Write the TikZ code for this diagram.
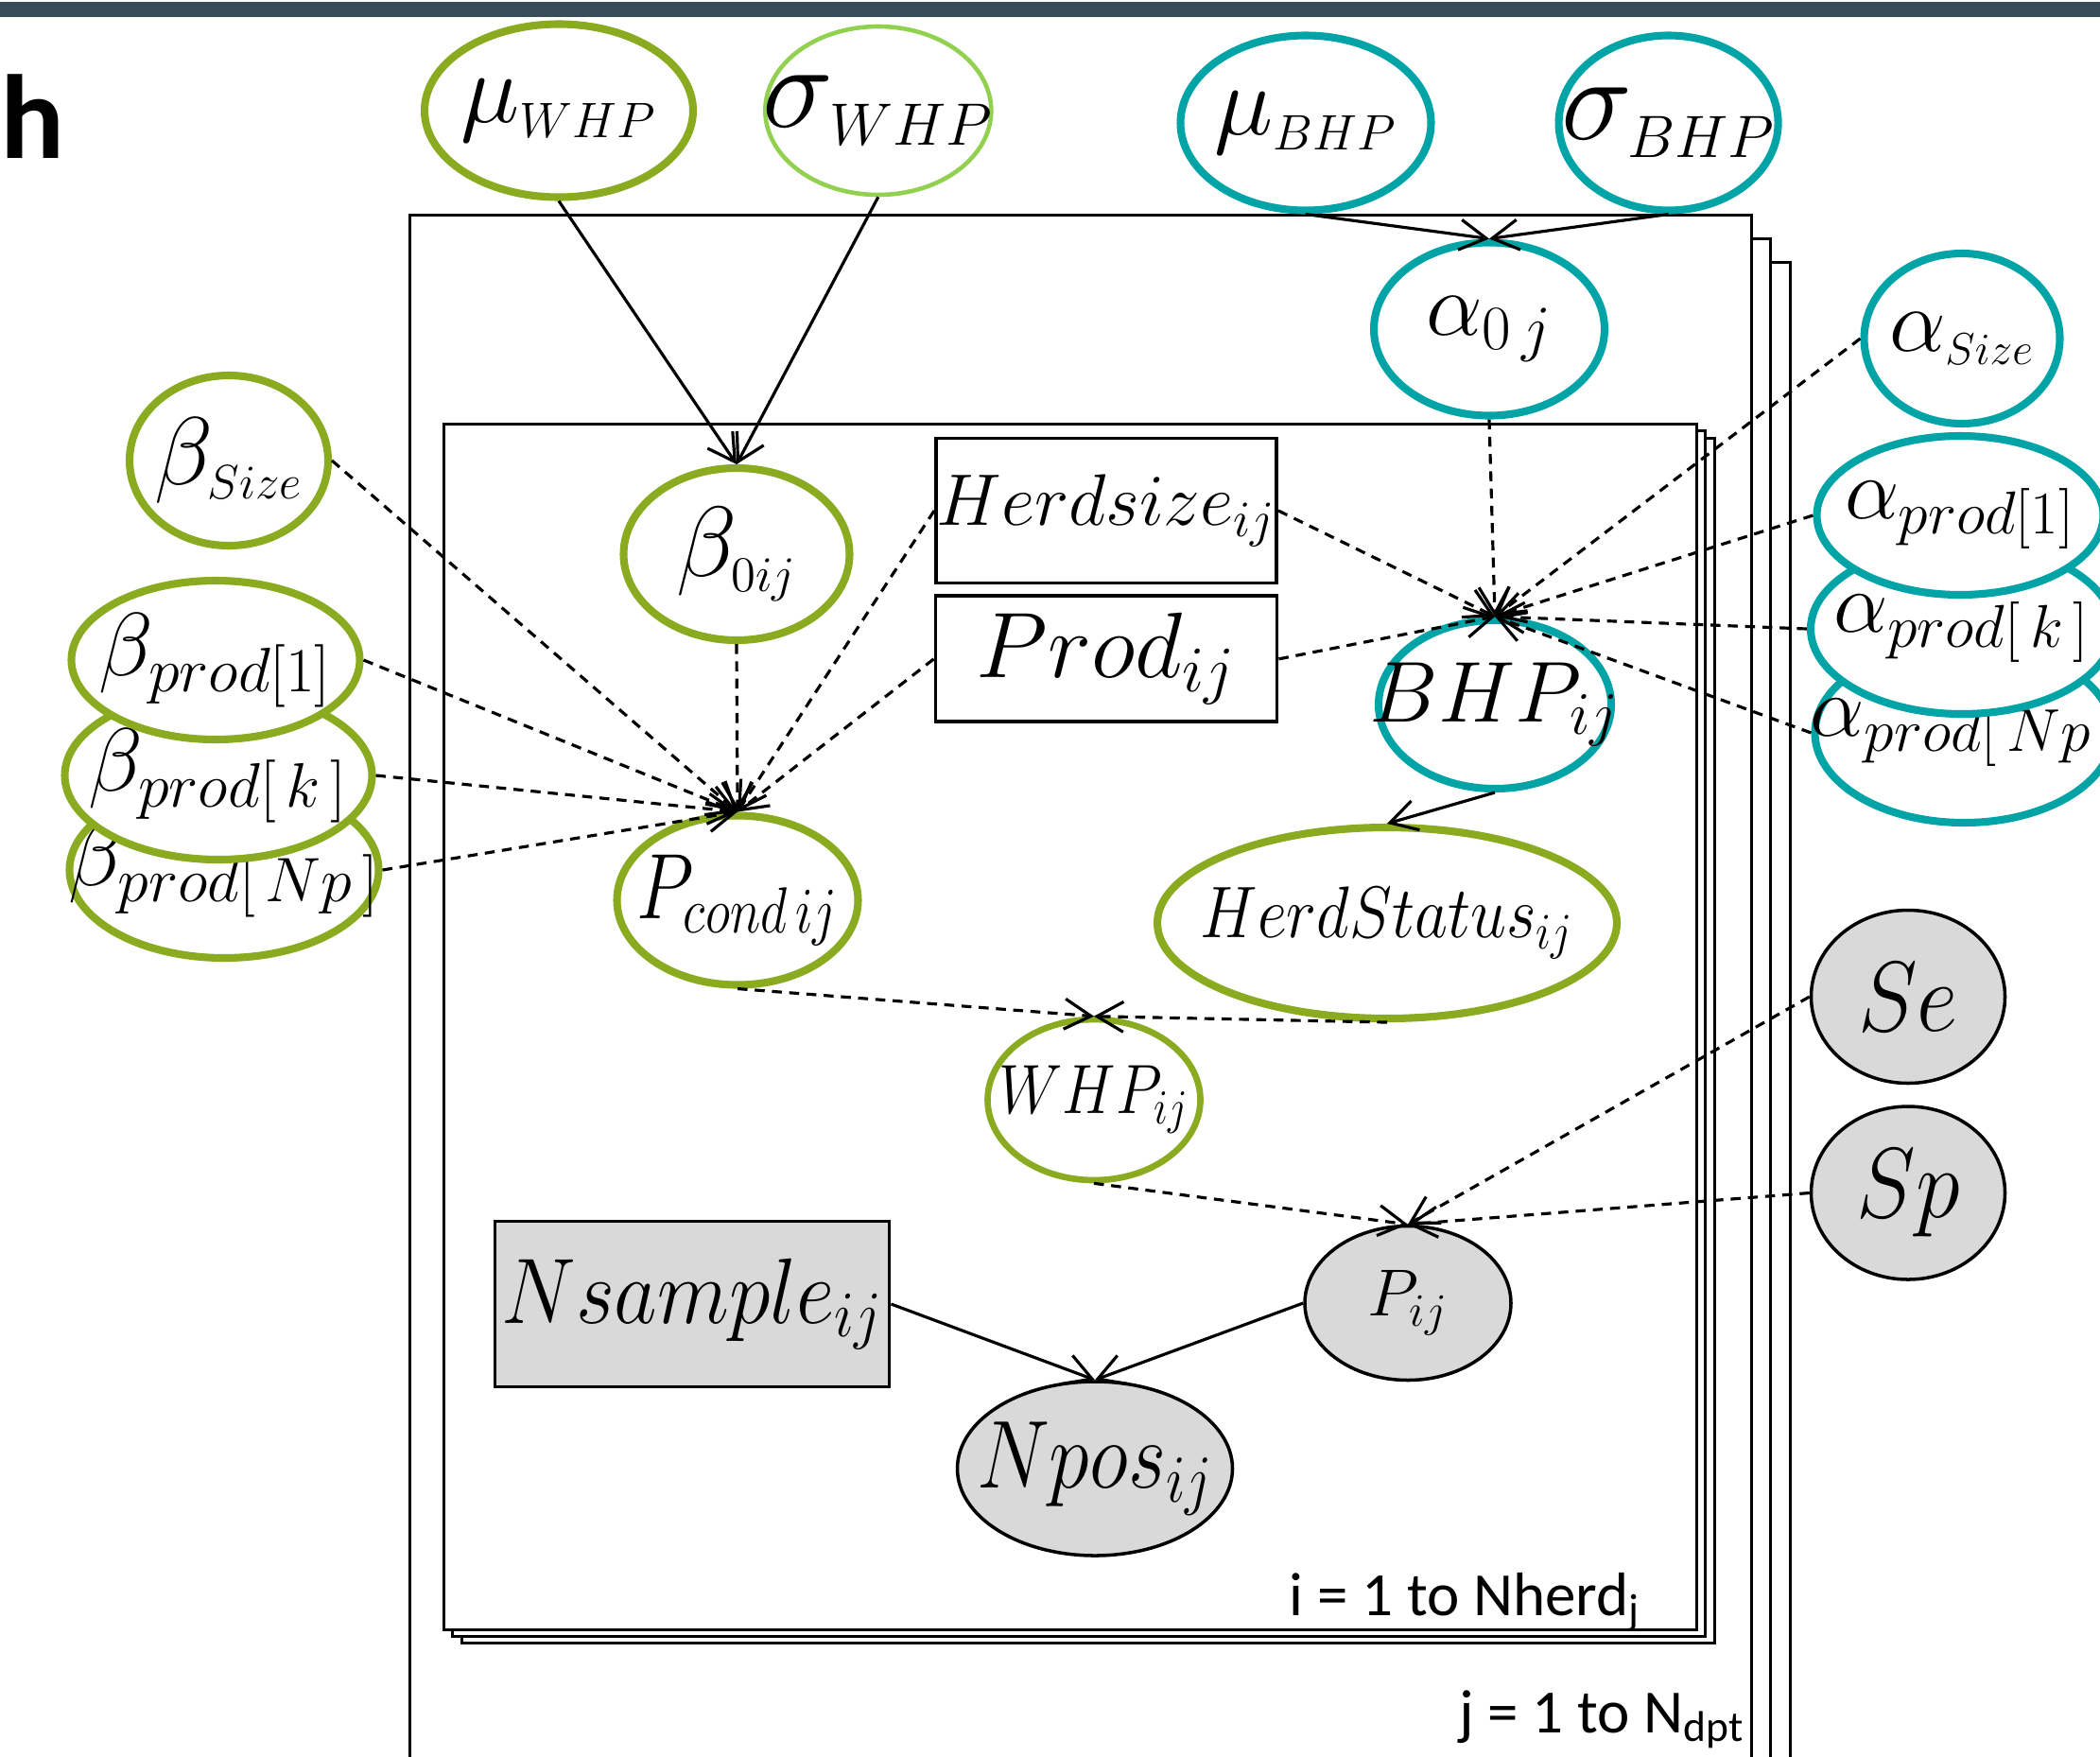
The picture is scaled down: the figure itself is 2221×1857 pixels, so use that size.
\RequirePackage{fix-cm}
\documentclass[tikz,border=0pt]{standalone}
\usepackage{fontspec}
\usepackage{graphicx}
\usepackage{tikz}
\usetikzlibrary{shapes,arrows.meta,positioning}
\newfontfamily\calib{Carlito}
\definecolor{wgreen}{RGB}{138,170,32}
\definecolor{wlight}{RGB}{146,208,80}
\definecolor{bteal}{RGB}{0,164,166}
\definecolor{obsgray}{RGB}{217,217,217}
\definecolor{barcol}{RGB}{57,77,89}
\newcommand{\fs}[1]{\fontsize{#1}{#1}\selectfont}
\newcommand{\nv}[2][1]{\makebox[0pt]{\scalebox{#1}[1]{$#2$}}}
\newcommand{\sub}[1]{{\scriptscriptstyle #1}}
\tikzset{
  ell/.style args={#1,#2}{ellipse,inner sep=0pt,minimum width=#1mm,minimum height=#2mm},
  databox/.style args={#1,#2}{rectangle,draw=black,line width=1.1pt,inner sep=0pt,
    minimum width=#1mm,minimum height=#2mm},
  whpnode/.style={draw=wgreen,line width=2.3pt,fill=white},
  bhpnode/.style={draw=bteal,line width=2.3pt,fill=white},
  obsnode/.style={draw=black,line width=1pt,fill=obsgray},
  plate/.style={draw=black,line width=0.85pt,fill=white},
  link/.style={->,line width=0.9pt},
  dep/.style={->,line width=0.9pt,dash pattern=on 3pt off 2.2pt},
  >={Straight Barb[length=2.8mm,width=3.2mm]}
}
\begin{document}
\begin{tikzpicture}[x=0.1mm,y=-0.1mm]
  \useasboundingbox (0,0) rectangle (2221,1857);
  \fill[barcol] (0,2) rectangle (2221,18);
  \node[font=\calib\bfseries\fs{36},anchor=base west,inner sep=0pt] (panel) at (0,167) {h};

  % plates, back copies first
  \foreach \lay in {2,1,0}
    \draw[plate] (433+\lay*20.5,227+\lay*25) rectangle (1852+\lay*20.5,1885);
  \foreach \lay in {2,1,0}
    \draw[plate] (469+\lay*9.5,448+\lay*7.5) rectangle (1794+\lay*9.5,1723+\lay*7);

  \node[whpnode,ell={28.4,18.3},font=\fs{30}] (muWHP) at (591,117) {\nv{\mu_{\sub{WHP}}}};
  \node[whpnode,draw=wlight,line width=1.3pt,ell={23.9,17.8},font=\fs{36},right=7mm of muWHP] (sigWHP) {\nv{\sigma_{\sub{WHP}}}};
  \node[bhpnode,ell={26.5,18.5},font=\fs{30}] (muBHP) at (1381,130) {\nv{\mu_{\sub{BHP}}}};
  \node[bhpnode,ell={23.2,18.5},font=\fs{36},right=12.7mm of muBHP] (sigBHP) {\nv{\sigma_{\sub{BHP}}}};
  \node[bhpnode,ell={24.4,18.3},font=\fs{27}] (alpha0) at (1575,348) {\nv{\alpha_{0\,j}}};

  \node[bhpnode,ell={20.7,18},font=\fs{27}] (alphaSize) at (2075,358) {\nv{\alpha_{\sub{Size}}}};
  \node[bhpnode,ell={31.5,19},font=\fs{26}] (alphaPN) at (2077,775) {\nv{\alpha_{prod[\,Np\,]}}};
  \node[bhpnode,ell={32,18},font=\fs{26}] (alphaPk) at (2075,665) {\nv{\alpha_{prod[\,k\,]}}};
  \node[bhpnode,ell={30.3,16.8},font=\fs{26}] (alphaP1) at (2073,545) {\nv{\alpha_{prod[1]}}};

  \node[whpnode,ell={21,18},font=\fs{29}] (betaSize) at (242,487) {\nv{\beta_{\sub{Size}}}};
  \node[whpnode,ell={32.7,18.6},font=\fs{27}] (betaPN) at (237,920) {\nv{\beta_{prod[\,Np\,]}}};
  \node[whpnode,ell={32.5,17.8},font=\fs{27}] (betaPk) at (231,820) {\nv{\beta_{prod[\,k\,]}}};
  \node[whpnode,ell={30.5,16.8},font=\fs{27}] (betaP1) at (228,698) {\nv{\beta_{prod[1]}}};

  \node[whpnode,ell={23.9,18.2},font=\fs{30}] (beta0) at (779,586) {\nv{\beta_{\sub{0ij}}}};
  \node[databox={36,15.3},font=\fs{22}] (herdsize) at (1170,540) {\nv{Herdsize_{ij}}};
  \node[databox={36.1,13.3},font=\fs{28},below=1mm of herdsize] (prod) {\nv{Prod_{ij}}};
  \node[bhpnode,ell={24.6,17.8},font=\fs{26}] (BHP) at (1581,745) {\nv{BHP_{ij}}};
  \node[whpnode,ell={25.5,17.9},font=\fs{28}] (Pcond) at (780,952) {\nv[0.8]{P_{cond\,ij}}};
  \node[whpnode,ell={48.6,20.2},font=\fs{22}] (herdstatus) at (1467,976) {\nv[0.88]{HerdStatus_{ij}}};
  \node[whpnode,line width=1.9pt,ell={22.5,17},font=\fs{21}] (WHP) at (1157,1163) {\nv[0.86]{WHP_{ij}}};

  \node[obsnode,ell={20.5,18.3},font=\fs{30}] (Se) at (2018,1054) {\nv[0.9]{Se}};
  \node[obsnode,ell={20.5,18.3},font=\fs{30},below=2.1mm of Se] (Sp) {\nv[0.9]{Sp}};
  \node[databox={41.7,17.5},fill=obsgray,font=\fs{28}] (nsample) at (732,1379) {\nv[0.9]{Nsample_{ij}}};
  \node[obsnode,ell={21.8,16.3},font=\fs{20}] (Pij) at (1489,1378) {\nv{P_{ij}}};
  \node[obsnode,ell={29.1,18.4},font=\fs{29}] (Npos) at (1158,1553) {\nv[0.85]{Npos_{ij}}};

  \path (muWHP.south) edge[link] (beta0.north)
    (sigWHP.south) edge[link] (beta0.north)
    (muBHP.south) edge[link] (alpha0.north)
    (sigBHP.south) edge[link] (alpha0.north);

  \foreach \src in {alpha0.south,alphaSize.west,alphaP1.west,alphaPk.west,alphaPN.west,herdsize.east,prod.east}
    \draw[dep] (\src) -- (BHP.north);
  \foreach \src in {beta0.south,betaSize.east,betaP1.east,betaPk.east,betaPN.east,herdsize.west,prod.west}
    \draw[dep] (\src) -- (Pcond.north);

  \path (BHP.south) edge[link] (herdstatus.north);
  \path (Pcond.south) edge[dep] (WHP.north)
    (herdstatus.south) edge[dep] (WHP.north)
    (WHP.south) edge[dep] (Pij.north)
    (Se.west) edge[dep] (Pij.north)
    (Sp.west) edge[dep] (Pij.north);
  \path (nsample.east) edge[link] (Npos.north)
    (Pij.west) edge[link] (Npos.north);

  \node[font=\calib\fs{18.5},anchor=base east,inner sep=0pt] (ilabel) at (1736,1708) {i = 1 to Nherd\textsubscript{j}};
  \node[font=\calib\fs{18.5},anchor=base east,inner sep=0pt] (jlabel) at (1846,1832) {j = 1 to N\textsubscript{dpt}};
\end{tikzpicture}
\end{document}
